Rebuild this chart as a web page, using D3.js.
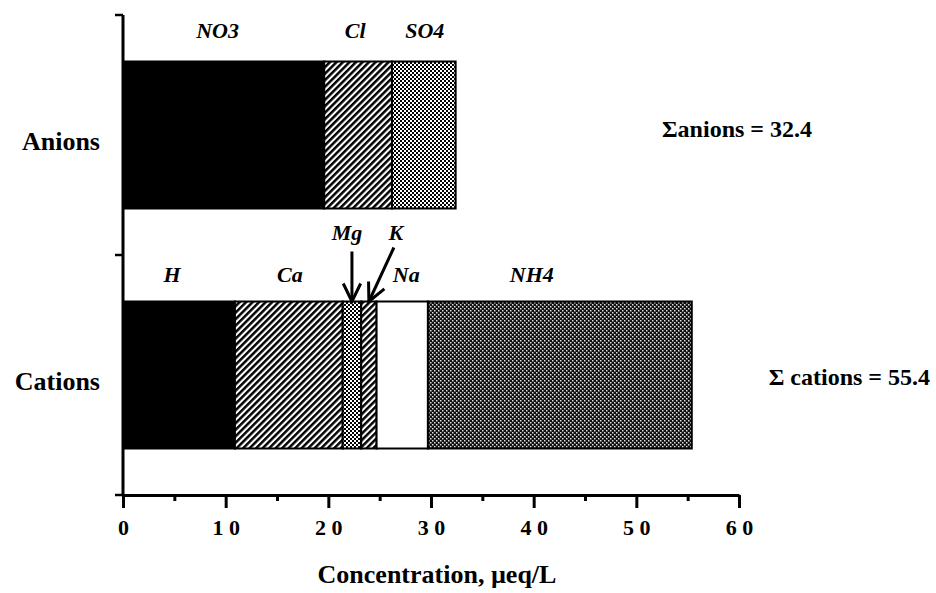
<!DOCTYPE html>
<html><head><meta charset="utf-8">
<script src="https://cdn.jsdelivr.net/npm/d3@7"></script>
<style>
body{margin:0;background:#fff}
@font-face{font-family:"SerifB";src:local("Liberation Serif Bold"),local("LiberationSerif-Bold");font-weight:bold;font-style:normal}
@font-face{font-family:"SerifB";src:local("Liberation Serif Bold Italic"),local("LiberationSerif-BoldItalic");font-weight:bold;font-style:italic}
</style>
</head><body>
<svg id="chart" width="936" height="593"></svg>
<script>
// ---------- data ----------
const categories = ["Anions", "Cations"];
const anionNames = ["NO3", "Cl", "SO4"];
const anionValues = [19.6, 6.6, 6.2];
const cationNames = ["H", "Ca", "Mg", "K", "Na", "NH4"];
const cationValues = [10.9, 10.5, 1.8, 1.5, 5.0, 25.7];
const sumLabels = ["\u03A3anions = 32.4", "\u03A3 cations = 55.4"];
const xTickValues = [0, 5, 10, 15, 20, 25, 30, 35, 40, 45, 50, 55, 60];
const xTitle = "Concentration, \u00B5eq/L";

// ---------- styles / layout tweaks ----------
const FONT = '"Times New Roman", "Liberation Serif", SerifB, serif';
const anionFills = ["#000", "url(#hatch)", "url(#checker)"];
const cationFills = ["#000", "url(#hatch)", "url(#checker)", "url(#hatch)", "#fff", "url(#stipple)"];
const anionLabelDx = [-6, -3, 1];
const cationLabelDx = [-7, 1, -5, 27, 4, -28];
const cationLabelRaised = [false, false, true, true, false, false];

function font(sel, size, italic) {
  sel.style("font-family", FONT).style("font-size", size + "px").style("font-weight", "bold");
  if (italic) sel.style("font-style", "italic");
  return sel;
}

const svg = d3.select("#chart");
const x = d3.scaleLinear().domain([0, 60]).range([123, 739]);
const y = d3.scaleBand().domain(categories).range([15, 495])
  .paddingInner(0.3875).paddingOuter(0.19375);

// ---------- patterns ----------
const defs = svg.append("defs");
const hatch = defs.append("pattern").attr("id", "hatch").attr("patternUnits", "userSpaceOnUse")
  .attr("width", 4.6).attr("height", 10).attr("patternTransform", "rotate(45)");
hatch.append("rect").attr("width", 4.6).attr("height", 10).attr("fill", "#fff");
hatch.append("rect").attr("width", 2.5).attr("height", 10).attr("fill", "#000");

const checker = defs.append("pattern").attr("id", "checker").attr("patternUnits", "userSpaceOnUse")
  .attr("width", 4).attr("height", 4);
checker.append("rect").attr("width", 4).attr("height", 4).attr("fill", "#fff");
checker.append("rect").attr("width", 2).attr("height", 2).attr("fill", "#000");
checker.append("rect").attr("x", 2).attr("y", 2).attr("width", 2).attr("height", 2).attr("fill", "#000");

const stipple = defs.append("pattern").attr("id", "stipple").attr("patternUnits", "userSpaceOnUse")
  .attr("width", 4).attr("height", 4);
stipple.append("rect").attr("width", 4).attr("height", 4).attr("fill", "#111");
stipple.append("rect").attr("x", 0).attr("y", 0).attr("width", 1.5).attr("height", 1.5).attr("fill", "#ddd");
stipple.append("rect").attr("x", 2).attr("y", 2).attr("width", 1.5).attr("height", 1.5).attr("fill", "#ddd");

// ---------- stacks ----------
function stack(names, values, fills) {
  let acc = 0;
  return names.map((n, i) => { const s = acc; acc += values[i]; return {name: n, x0: s, x1: acc, fill: fills[i], i}; });
}
const anionSegs = stack(anionNames, anionValues, anionFills);
const cationSegs = stack(cationNames, cationValues, cationFills);

function drawBar(segs, cat) {
  svg.append("g").selectAll("rect").data(segs).join("rect")
    .attr("x", d => x(d.x0)).attr("width", d => x(d.x1) - x(d.x0))
    .attr("y", y(cat)).attr("height", y.bandwidth())
    .attr("fill", d => d.fill).attr("stroke", "#000").attr("stroke-width", 2);
}
drawBar(anionSegs, "Anions");
drawBar(cationSegs, "Cations");

// ---------- segment labels ----------
font(svg.append("g").selectAll("text").data(anionSegs).join("text")
  .attr("x", d => x((d.x0 + d.x1) / 2) + anionLabelDx[d.i])
  .attr("y", y("Anions") - 24)
  .attr("text-anchor", "middle")
  .text(d => d.name), 22, true);

font(svg.append("g").selectAll("text").data(cationSegs).join("text")
  .attr("x", d => x((d.x0 + d.x1) / 2) + cationLabelDx[d.i])
  .attr("y", d => cationLabelRaised[d.i] ? y("Cations") - 62 : y("Cations") - 20)
  .attr("text-anchor", "middle")
  .text(d => d.name), 22, true);

// ---------- arrows for Mg and K ----------
function arrow(x1, y1, x2, y2) {
  const ang = Math.atan2(y2 - y1, x2 - x1), L = 20, a = 0.45;
  const p = [[x2 - L * Math.cos(ang - a), y2 - L * Math.sin(ang - a)], [x2, y2], [x2 - L * Math.cos(ang + a), y2 - L * Math.sin(ang + a)]];
  svg.append("line").attr("x1", x1).attr("y1", y1).attr("x2", x2).attr("y2", y2)
    .attr("stroke", "#000").attr("stroke-width", 3);
  svg.append("polyline").attr("points", p.map(q => q.join(",")).join(" "))
    .attr("fill", "none").attr("stroke", "#000").attr("stroke-width", 3);
}
const mg = cationSegs[2], k = cationSegs[3];
const topC = y("Cations");
arrow(x((mg.x0 + mg.x1) / 2), topC - 50, x((mg.x0 + mg.x1) / 2), topC);
arrow(x((k.x0 + k.x1) / 2) + 25, topC - 54, x((k.x0 + k.x1) / 2), topC);

// ---------- category labels ----------
font(svg.append("g").selectAll("text").data(categories).join("text")
  .attr("x", 100).attr("y", d => y(d) + y.bandwidth() / 2 + 15)
  .attr("text-anchor", "end")
  .text(d => d), 26, false);

// ---------- sum labels ----------
const sumX = [812, 930], sumDy = [2, 10];
font(svg.append("g").selectAll("text").data(sumLabels).join("text")
  .attr("x", (d, i) => sumX[i])
  .attr("y", (d, i) => y(categories[i]) + y.bandwidth() / 2 + sumDy[i])
  .attr("text-anchor", "end")
  .text(d => d), 24, false);

// ---------- y axis ----------
const yTop = y.range()[0], yBot = y.range()[1];
svg.append("line").attr("x1", 123).attr("x2", 123).attr("y1", yTop).attr("y2", yBot)
  .attr("stroke", "#000").attr("stroke-width", 3);
const yTicks = [yTop, y("Cations") - y.step() * y.paddingInner() / 2, yBot];
svg.append("g").selectAll("line").data(yTicks).join("line")
  .attr("x1", 115).attr("x2", 123).attr("y1", d => d).attr("y2", d => d)
  .attr("stroke", "#000").attr("stroke-width", 2.5);

// ---------- x axis ----------
const xAxis = d3.axisBottom(x).tickValues(xTickValues).tickSize(13).tickSizeOuter(0)
  .tickFormat(d => d % 10 === 0 ? String(d).split("").join(" ") : "");
const gx = svg.append("g").attr("transform", `translate(0,${yBot})`).call(xAxis);
gx.attr("font-family", null);
gx.select(".domain").attr("stroke-width", 3);
gx.selectAll(".tick line").attr("stroke-width", 3)
  .attr("y2", d => d % 10 === 0 ? 13 : 6);
font(gx.selectAll(".tick text").attr("y", 40).attr("dy", null).attr("fill", "#000"), 22, false)
  .style("white-space", "pre");

font(svg.append("text").attr("x", (x(0) + x(60)) / 2 + 6).attr("y", 583)
  .attr("text-anchor", "middle").text(xTitle), 26, false);
</script>
</body></html>
